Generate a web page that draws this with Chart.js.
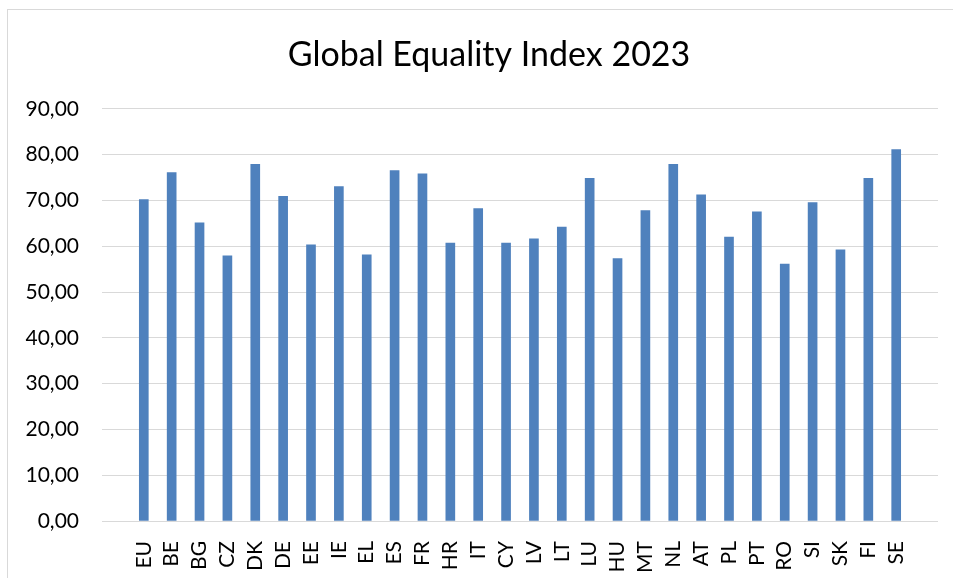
<!DOCTYPE html>
<html>
<head>
<meta charset="utf-8">
<title>Global Equality Index 2023</title>
<script src="https://cdn.jsdelivr.net/npm/chart.js@4.4.0/dist/chart.umd.min.js"></script>
<style>
    body { margin: 0; background: #fff; }
    .wrap { position: relative; width: 953px; height: 578px; overflow: hidden; }
    .frame { position: absolute; left: 7px; top: 9px; width: 1000px; height: 700px; border: 1px solid #d9d9d9; }
    canvas { position: absolute; left: 0; top: 0; }
</style>
</head>
<body>
<div class="wrap">
    <div class="frame"></div>
    <canvas id="chart" width="978" height="578"></canvas>
</div>
<script>
const countries = ['EU', 'BE', 'BG', 'CZ', 'DK', 'DE', 'EE', 'IE', 'EL', 'ES', 'FR', 'HR', 'IT', 'CY',
    'LV', 'LT', 'LU', 'HU', 'MT', 'NL', 'AT', 'PL', 'PT', 'RO', 'SI', 'SK', 'FI', 'SE'];
const indexValues = [70.2, 76.1, 65.1, 57.9, 77.9, 70.9, 60.3, 73.0, 58.1, 76.5, 75.8, 60.7, 68.2, 60.7,
    61.6, 64.2, 74.8, 57.3, 67.8, 77.9, 71.2, 62.0, 67.5, 56.1, 69.5, 59.2, 74.8, 81.1];
const yTicks = [0, 10, 20, 30, 40, 50, 60, 70, 80, 90];

const fontName = 'Lato, "Open Sans", sans-serif';

// x is a linear scale so the plot keeps an empty margin on both sides like the original
const points = indexValues.map((v, i) => ({x: i, y: v}));

const ctx = document.getElementById('chart').getContext('2d');
const chart = new Chart(ctx, {
    type: 'bar',
    data: {
        datasets: [{
            label: 'Global Equality Index 2023',
            data: points,
            backgroundColor: '#4f81bd',
            barThickness: 9
        }]
    },
    options: {
        responsive: false,
        animation: false,
        layout: {
            padding: 0
        },
        plugins: {
            legend: {display: false},
            tooltip: {enabled: false},
            title: {
                display: true,
                text: 'Global Equality Index 2023',
                color: '#000',
                font: {family: fontName, size: 34, weight: 'normal'},
                padding: {top: 35, bottom: 33}
            }
        },
        scales: {
            x: {
                type: 'linear',
                offset: false,
                min: -1.5,
                max: 28.5,
                grid: {display: false},
                border: {display: false},
                afterBuildTicks: scale => {
                    scale.ticks = countries.map((c, i) => ({value: i}));
                },
                afterFit: scale => {
                    scale.height = 57;
                },
                ticks: {
                    autoSkip: false,
                    maxRotation: 90,
                    minRotation: 90,
                    padding: 12,
                    color: '#000',
                    font: {family: fontName, size: 21},
                    callback: v => countries[v]
                }
            },
            y: {
                min: 0,
                max: 90,
                grid: {color: '#d9d9d9', lineWidth: 1, drawTicks: false},
                border: {display: false},
                afterBuildTicks: scale => {
                    scale.ticks = yTicks.map(v => ({value: v}));
                },
                afterFit: scale => {
                    scale.width = 102;
                },
                ticks: {
                    padding: 23,
                    color: '#000',
                    font: {family: fontName, size: 21},
                    callback: v => v.toFixed(2).replace('.', ',')
                }
            },
            // empty right axis: only reserves the space right of the plot so the title centres like the original
            spacer: {
                position: 'right',
                grid: {display: false},
                border: {display: false},
                ticks: {display: false},
                afterFit: scale => {
                    scale.width = 40;
                }
            }
        }
    }
});
</script>
</body>
</html>
